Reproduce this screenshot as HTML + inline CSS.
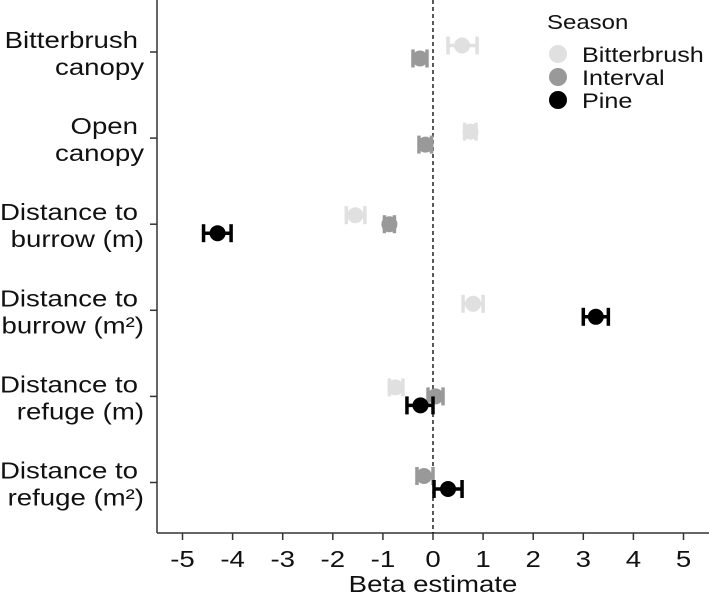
<!DOCTYPE html>
<html><head><meta charset="utf-8"><style>
body{margin:0;background:#fff;}
svg{display:block;font-family:"Liberation Sans",sans-serif;}
</style></head><body>
<svg id="chart" width="709" height="595" xmlns="http://www.w3.org/2000/svg"></svg>
<script>
const categories = [["Bitterbrush","canopy"],["Open","canopy"],["Distance to","burrow (m)"],["Distance to","burrow (m\u00b2)"],["Distance to","refuge (m)"],["Distance to","refuge (m\u00b2)"]];
const seasons = ["Bitterbrush","Interval","Pine"];
const seasonColors = ["#e0e0e0","#999999","#000000"];
const bitterbrushEst = [0.58,0.75,-1.55,0.8,-0.75,null];
const bitterbrushLo  = [0.3,0.63,-1.73,0.6,-0.87,null];
const bitterbrushHi  = [0.88,0.86,-1.36,1.0,-0.6,null];
const intervalEst = [-0.26,-0.15,-0.87,null,0.05,-0.18];
const intervalLo  = [-0.4,-0.28,-0.97,null,-0.1,-0.32];
const intervalHi  = [-0.12,-0.03,-0.77,null,0.2,0.0];
const pineEst = [null,null,-4.3,3.25,-0.25,0.3];
const pineLo  = [null,null,-4.58,3.0,-0.52,0.02];
const pineHi  = [null,null,-4.03,3.5,0.0,0.58];
const xTicks = [-5,-4,-3,-2,-1,0,1,2,3,4,5];

const svg = document.getElementById('chart');
const NS = 'http://www.w3.org/2000/svg';
function mk(tag, attrs, parent){const e=document.createElementNS(NS,tag);for(const k in attrs)e.setAttribute(k,attrs[k]);(parent||svg).appendChild(e);return e;}
function txt(x,y,s,size,anchor,parent){
  const t = mk('text',{transform:'translate('+x+','+y+') scale(1.2,1)','text-anchor':anchor,'font-size':size,fill:'#111'},parent);
  t.textContent = s; return t;
}
const xScale = v => 433 + v*50.1;
const yCat = i => 52 + i*86.1;

let ax = mk('line',{x1:157,y1:0,x2:157,y2:533,stroke:'#333','stroke-width':1.5});


ax = mk('line',{x1:157,y1:533,x2:709,y2:533,stroke:'#333','stroke-width':1.5});


let zl = mk('line',{x1:433,y1:0,x2:433,y2:533,stroke:'#000','stroke-width':1.3,'stroke-dasharray':'4,3'});



xTicks.forEach(t=>{
  const x = xScale(t);
  const tk = mk('line',{x1:x,y1:533,x2:x,y2:540,stroke:'#333','stroke-width':1.5});
  
  
  const tl = txt(x,567,String(t),23,'middle');
  
  
});
const xt = txt(433,592,'Beta estimate',23,'middle');



categories.forEach((c,i)=>{
  const y = yCat(i);
  const tk = mk('line',{x1:150,y1:y,x2:157,y2:y,stroke:'#333','stroke-width':1.5});
  
  
  const g = mk('g',{});
  
  
  txt(138,y-4,c[0],23,'end',g);
  txt(144,y+23,c[1],23,'end',g);
});

const est=[bitterbrushEst,intervalEst,pineEst], lo=[bitterbrushLo,intervalLo,pineLo], hi=[bitterbrushHi,intervalHi,pineHi];
categories.forEach((c,i)=>{
  const present = [0,1,2].filter(s=>est[s][i]!==null);
  const n = present.length;
  present.forEach((s,k)=>{
    const off = n===3 ? (k-1)*9 : (k-0.5)*13;
    const y = yCat(i)+off;
    const g = mk('g',{});
    
    
    const col = seasonColors[s];
    const x1=xScale(lo[s][i]), x2=xScale(hi[s][i]);
    mk('line',{x1:x1,y1:y,x2:x2,y2:y,stroke:col,'stroke-width':3.5},g);
    mk('line',{x1:x1,y1:y-9,x2:x1,y2:y+9,stroke:col,'stroke-width':3.5},g);
    mk('line',{x1:x2,y1:y-9,x2:x2,y2:y+9,stroke:col,'stroke-width':3.5},g);
    mk('circle',{cx:xScale(est[s][i]),cy:y,r:8,fill:col},g);
  });
});

const lg = mk('g',{});


const lt = txt(547,29,'Season',20,'start',lg);


seasons.forEach((s,k)=>{
  const y = 54 + k*23;
  const e = mk('g',{},lg);
  
  
  mk('circle',{cx:558,cy:y,r:9,fill:seasonColors[k]},e);
  txt(582,y+8,s,21,'start',e);
});
</script>
</body></html>
